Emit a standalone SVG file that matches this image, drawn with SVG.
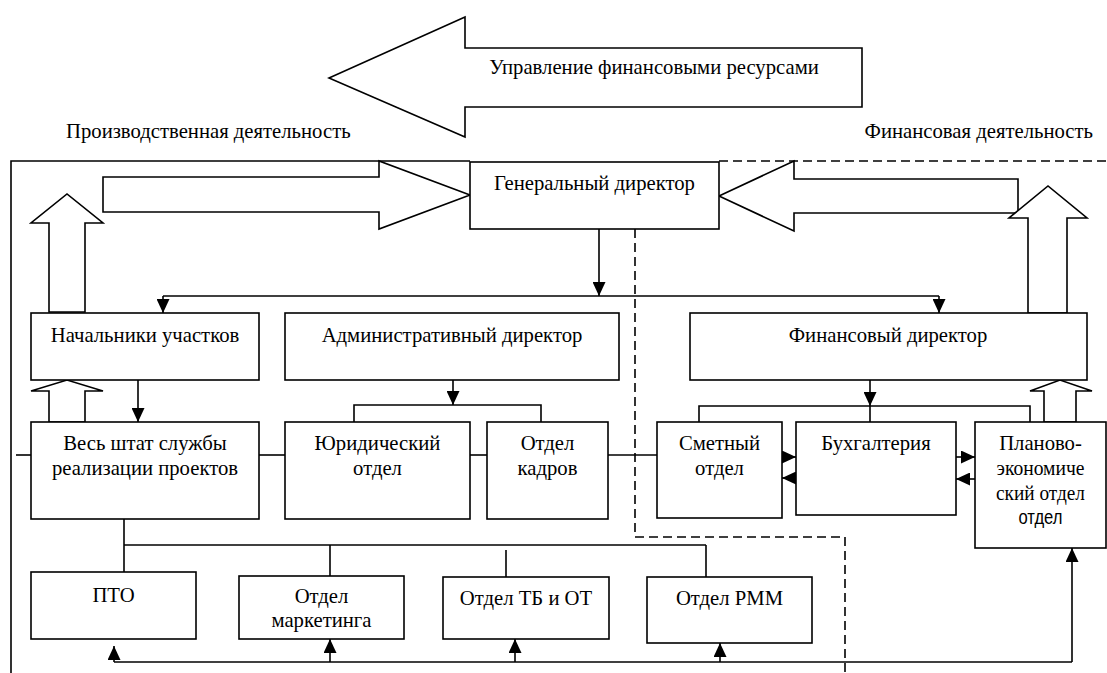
<svg xmlns="http://www.w3.org/2000/svg" width="1107" height="673" viewBox="0 0 1107 673">
<style>
.b{fill:#fff;stroke:#000;stroke-width:1.6}
.l{fill:none;stroke:#000;stroke-width:1.6}
.d{fill:none;stroke:#000;stroke-width:1.6;stroke-dasharray:9,5}
.a{fill:#fff;stroke:#000;stroke-width:1.6;stroke-linejoin:miter}
.t{font-family:'Liberation Serif','DejaVu Serif',serif;font-size:20.7px;fill:#000;text-anchor:middle}
.s{font-family:'Liberation Sans',Arial,sans-serif;font-size:21px}
</style>
<defs>
<marker id="ar" viewBox="0 0 14 13" refX="14" refY="6.5" markerWidth="14" markerHeight="13" orient="auto" markerUnits="userSpaceOnUse"><path d="M0,0L14,6.5L0,13z" fill="#000"/></marker>
</defs>
<rect width="1107" height="673" fill="#fff"/>
<g id="labels" class="t" font-family="Liberation Serif, serif">
<text x="66" y="138" text-anchor="start">Производственная деятельность</text>
<text x="1093" y="138" text-anchor="end">Финансовая деятельность</text>
</g>
<g id="fin-arrow">
<polygon class="a" points="862,48 465,48 465,17 329,78 465,137 465,107 862,107"/>
<text class="t" font-family="Liberation Serif, serif" x="654" y="74">Управление финансовыми ресурсами</text>
</g>
<g id="frame">
<polyline class="l" points="11,673 11,161 470,161"/>
<line class="d" x1="719" y1="161" x2="1107" y2="161"/>
<polyline class="d" points="635,229 635,537 845,537 845,673"/>
</g>
<g id="big-arrows">
<polygon class="a" points="103,177 379,177 379,161 470,195 379,229 379,212 103,212"/>
<polygon class="a" points="1018,179 794,179 794,161 719,196 794,231 794,213 1018,213"/>
<polygon class="a" points="49,312 49,223 31,223 67,194 103,223 85,223 85,312"/>
<polygon class="a" points="1028,313 1028,218 1009,218 1048,186 1087,218 1067,218 1067,313"/>
<polygon class="a" points="49,422 49,391 31,391 67,380 103,391 85,391 85,422"/>
<polygon class="a" points="1044,422 1044,391 1030,391 1060,380 1092,391 1076,391 1076,422"/>
</g>
<g id="connectors">
<line class="l" x1="599" y1="229" x2="599" y2="296" marker-end="url(#ar)"/>
<line class="l" x1="163" y1="296" x2="939" y2="296"/>
<line class="l" x1="163" y1="296" x2="163" y2="313" marker-end="url(#ar)"/>
<line class="l" x1="939" y1="296" x2="939" y2="313" marker-end="url(#ar)"/>
<line class="l" x1="138" y1="380" x2="138" y2="422" marker-end="url(#ar)"/>
<line class="l" x1="453" y1="380" x2="453" y2="405" marker-end="url(#ar)"/>
<polyline class="l" points="354,422 354,405 541,405 541,422"/>
<line class="l" x1="870" y1="380" x2="870" y2="406" marker-end="url(#ar)"/>
<polyline class="l" points="699,422 699,406 1030,406 1030,422"/>
<line class="l" x1="870" y1="406" x2="870" y2="422"/>
<line class="l" x1="16" y1="455" x2="31" y2="455"/>
<line class="l" x1="259" y1="455" x2="285" y2="455"/>
<line class="l" x1="470" y1="455" x2="487" y2="455"/>
<line class="l" x1="608" y1="455" x2="657" y2="455"/>
<line class="l" x1="782" y1="457" x2="796" y2="457" marker-end="url(#ar)"/>
<line class="l" x1="796" y1="478" x2="782" y2="478" marker-end="url(#ar)"/>
<line class="l" x1="956" y1="457" x2="975" y2="457" marker-end="url(#ar)"/>
<line class="l" x1="975" y1="479" x2="956" y2="479" marker-end="url(#ar)"/>
<line class="l" x1="124" y1="519" x2="124" y2="572"/>
<line class="l" x1="124" y1="545" x2="706" y2="545"/>
<line class="l" x1="330" y1="545" x2="330" y2="576"/>
<line class="l" x1="506" y1="550" x2="506" y2="577"/>
<line class="l" x1="706" y1="545" x2="706" y2="577"/>
<line class="l" x1="114" y1="662" x2="1072" y2="662"/>
<line class="l" x1="114" y1="662" x2="114" y2="646" marker-end="url(#ar)"/>
<line class="l" x1="330" y1="662" x2="330" y2="639" marker-end="url(#ar)"/>
<line class="l" x1="515" y1="662" x2="515" y2="639" marker-end="url(#ar)"/>
<line class="l" x1="720" y1="662" x2="720" y2="643" marker-end="url(#ar)"/>
<line class="l" x1="1072" y1="662" x2="1072" y2="548" marker-end="url(#ar)"/>
</g>
<g class="t" font-family="Liberation Serif, serif">
<g id="gen-dir"><rect class="b" x="470" y="162" width="249" height="67"/><text x="594.5" y="190">Генеральный директор</text></g>
<g id="nach"><rect class="b" x="31" y="313" width="228" height="67"/><text x="145" y="342">Начальники участков</text></g>
<g id="adm-dir"><rect class="b" x="285" y="313" width="334" height="67"/><text x="452" y="342">Административный директор</text></g>
<g id="fin-dir"><rect class="b" x="690" y="313" width="397" height="67"/><text x="888" y="342">Финансовый директор</text></g>
<g id="ves-shtat"><rect class="b" x="31" y="422" width="228" height="97"/><text x="145" y="450">Весь штат службы</text><text x="145" y="475">реализации проектов</text></g>
<g id="yur"><rect class="b" x="285" y="422" width="185" height="97"/><text x="377.5" y="450">Юридический</text><text x="377.5" y="475">отдел</text></g>
<g id="kadry"><rect class="b" x="487" y="422" width="121" height="97"/><text x="547.5" y="450">Отдел</text><text x="547.5" y="475">кадров</text></g>
<g id="smetny"><rect class="b" x="657" y="422" width="125" height="96"/><text x="719.5" y="450">Сметный</text><text x="719.5" y="475">отдел</text></g>
<g id="buh"><rect class="b" x="796" y="422" width="160" height="93"/><text x="876" y="450">Бухгалтерия</text></g>
<g id="plan"><rect class="b" x="975" y="422" width="131" height="126"/><text x="1040.5" y="450">Планово-</text><text x="1040.5" y="475" textLength="88" lengthAdjust="spacingAndGlyphs">экономиче</text><text x="1040.5" y="500" textLength="89" lengthAdjust="spacingAndGlyphs">ский отдел</text><text class="s" font-family="Liberation Sans, sans-serif" x="1040.5" y="524" textLength="44" lengthAdjust="spacingAndGlyphs">отдел</text></g>
<g id="pto"><rect class="b" x="31" y="572" width="165" height="67"/><text x="113.5" y="602">ПТО</text></g>
<g id="marketing"><rect class="b" x="239" y="576" width="165" height="63"/><text x="321.5" y="603">Отдел</text><text x="321.5" y="627">маркетинга</text></g>
<g id="tb"><rect class="b" x="443" y="577" width="166" height="62"/><text x="526" y="605">Отдел ТБ и ОТ</text></g>
<g id="rmm"><rect class="b" x="647" y="577" width="165" height="66"/><text x="729.5" y="605">Отдел РММ</text></g>
</g>
</svg>
